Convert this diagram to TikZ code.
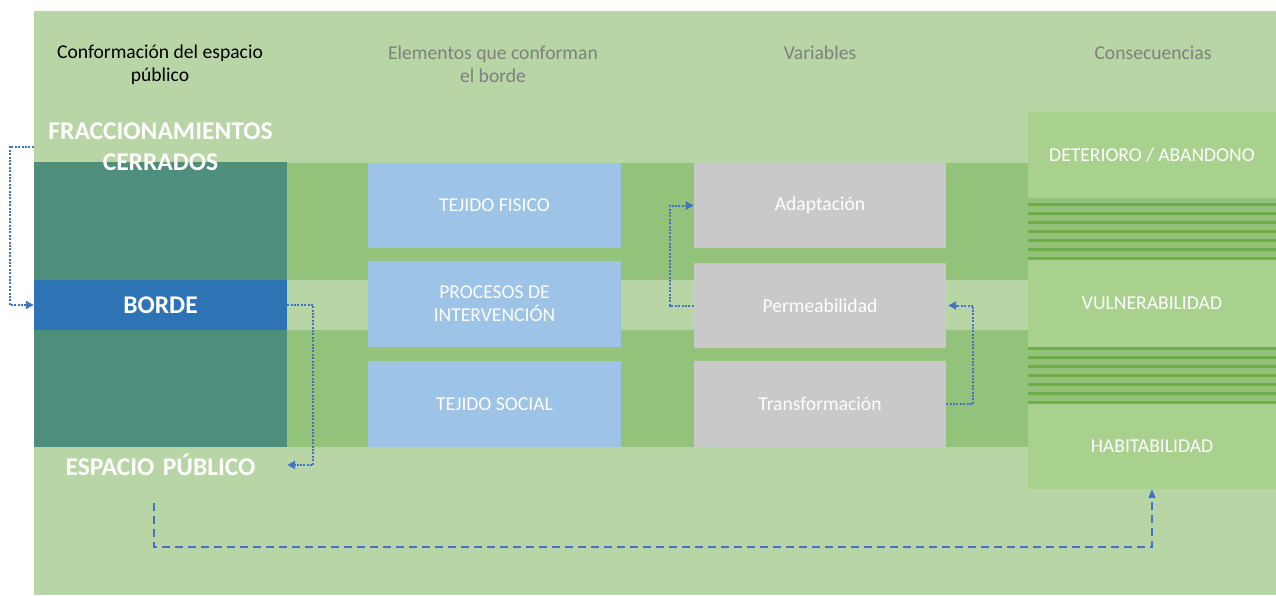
\documentclass[tikz,border=0pt]{standalone}
\usepackage{fontspec}
\setmainfont{Carlito}
\usetikzlibrary{arrows.meta,calc}
\definecolor{bgc}{HTML}{B8D6A5}
\definecolor{midg}{HTML}{93C27A}
\definecolor{rcol}{HTML}{A9D18E}
\definecolor{stripec}{HTML}{70AD47}
\definecolor{tealc}{HTML}{4E8E7D}
\definecolor{bordec}{HTML}{2E74B5}
\definecolor{lblue}{HTML}{9DC3E6}
\definecolor{lgray}{HTML}{C9C9C9}
\definecolor{arrc}{HTML}{4472C4}
\definecolor{headg}{HTML}{7F7F7F}
\begin{document}
\begin{tikzpicture}[x=1pt,y=-1pt,
  txt/.style={font=\fontsize{19.6}{23}\selectfont, align=center},
  headtxt/.style={txt, text=headg},
  boxtxt/.style={txt, text=white, inner sep=0},
  bigtxt/.style={font=\fontsize{25.5}{31}\selectfont\bfseries, text=white, align=center, inner sep=0, text width=253},
  bluebox/.style={boxtxt, fill=lblue, minimum width=253, minimum height=86},
  graybox/.style={boxtxt, fill=lgray, minimum width=252, minimum height=86},
  conbox/.style={boxtxt, fill=rcol, minimum width=248},
  dotarrow/.style={draw=arrc, line width=2, dash pattern=on 2pt off 1.4pt, -{Triangle[length=8,width=8]}},
  dasharrow/.style={draw=arrc, line width=1.5, dash pattern=on 8pt off 5pt, -{Triangle[length=9,width=7]}}
]
\useasboundingbox (0,0) rectangle (1276,595);
% background
\fill[bgc] (34,11) rectangle (1276,595);
% middle band
\fill[midg] (287,163) rectangle (1028,447);
\fill[bgc] (287,280) rectangle (1028,330);
% left teal block
\fill[tealc] (34,162) rectangle (287,447);
\node[boxtxt, fill=bordec, minimum width=253, minimum height=50,
  font=\fontsize{25.5}{31}\selectfont\bfseries] (borde) at (160.5,305) {BORDE};
% headers
\node[txt, text=black] (h1) at (160,64.5) {Conformación del espacio\\público};
\node[headtxt] (h2) at (493,64.5) {Elementos que conforman\\el borde};
\node[headtxt] (h3) at (820,53) {Variables};
\node[headtxt] (h4) at (1153,53) {Consecuencias};
% big labels
\node[bigtxt] (frac) at (160.5,146.5) {FRACCIONAMIENTOS\\CERRADOS};
\node[bigtxt] (esp) at (160.5,465) {ESPACIO PÚBLICO};
% elements column
\node[bluebox, minimum height=85] (tf) at (494.5,205.5) {TEJIDO FISICO};
\node[bluebox] (pi) at (494.5,304) {PROCESOS DE\\INTERVENCIÓN};
\node[bluebox] (ts) at (494.5,404) {TEJIDO SOCIAL};
% variables column
\node[graybox, minimum height=85] (adap) at (820,205.5) {Adaptación};
\node[graybox, minimum height=85] (perm) at (820,305.5) {Permeabilidad};
\node[graybox] (trans) at (820,404) {Transformación};
% consequences column
\node[conbox, minimum height=86] (det) at (1152,155) {DETERIORO / ABANDONO};
\node[conbox, minimum height=87] (vul) at (1152,303.5) {VULNERABILIDAD};
\node[conbox, minimum height=85] (hab) at (1152,446.5) {HABITABILIDAD};
\fill[midg] (1028,198) rectangle (1276,260);
\foreach \k in {0,...,6}
  \fill[stripec] (1028,{202.7+9*\k}) rectangle (1276,{205.7+9*\k});
\fill[midg] (1028,347) rectangle (1276,404);
\foreach \k in {0,...,6}
  \fill[stripec] (1028,{347.3+9*\k}) rectangle (1276,{350.3+9*\k});
% connectors
\draw[dotarrow] (frac.west) -- ++(-24,0) |- (borde.west);
\draw[dotarrow] (borde.east) -- ++(26,0) |- (esp.east);
\draw[dotarrow] (perm.west) -- ++(-24,0) |- (adap.west);
\draw[dotarrow] (trans.east) -- ++(27,0) |- ($(perm.east)+(2,0)$);
\coordinate (dstart) at (154,503);
\draw[dasharrow] (dstart) -- (154,547) -| (hab.south);
\end{tikzpicture}
\end{document}
